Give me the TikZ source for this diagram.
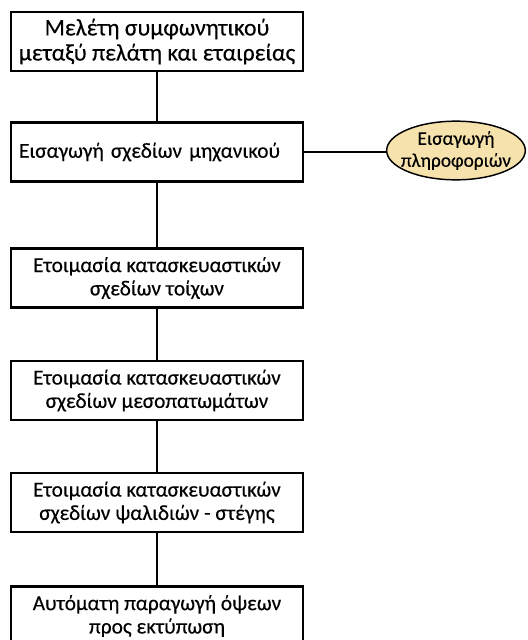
\documentclass[tikz,border=0pt]{standalone}
\usepackage{fontspec}
\setmainfont[FakeBold=0.3]{Carlito}
\usetikzlibrary{shapes.geometric}
\definecolor{tan}{RGB}{246,226,172}
\begin{document}
\begin{tikzpicture}[x=0.75pt,y=-0.75pt,
  stepbox/.style={draw,line width=1.9pt,minimum width=219pt,minimum height=44.5pt,inner sep=0pt,align=center,font=\fontsize{16}{17.5}\selectfont},
  info/.style={draw,ellipse,fill=tan,line width=1.1pt,minimum width=104pt,minimum height=44pt,inner sep=0pt,align=center,font=\fontsize{14.5}{16.5}\selectfont},
  link/.style={line width=2.2pt}]
\useasboundingbox (0,0) rectangle (528,640);
\begin{scope}
\clip (0,0) rectangle (528,640);
\node[stepbox,font=\fontsize{17.8}{18.8}\selectfont] (s1) at (157,41.5) {Μελέτη συμφωνητικού\\μεταξύ πελάτη και εταιρείας};
\node[stepbox,text width=207pt,align=left] (s2) at (157,152) {Εισαγωγή σχεδίων μηχανικού};
\node[stepbox] (s3) at (157,278) {Ετοιμασία κατασκευαστικών\\σχεδίων τοίχων};
\node[stepbox] (s4) at (157,390.5) {Ετοιμασία κατασκευαστικών\\σχεδίων μεσοπατωμάτων};
\node[stepbox] (s5) at (157,502.5) {Ετοιμασία κατασκευαστικών\\σχεδίων ψαλιδιών - στέγης};
\node[stepbox] (s6) at (157,616) {Αυτόματη παραγωγή όψεων\\προς εκτύπωση};
\node[info] (i1) at (456,150.5) {\makebox[0pt]{Εισαγωγή}\\\makebox[0pt]{πληροφοριών}};
\draw[link] (s1) -- (s2);
\draw[link] (s2) -- (s3);
\draw[link] (s3) -- (s4);
\draw[link] (s4) -- (s5);
\draw[link] (s5) -- (s6);
\draw[link] (s2.east) -- (s2.east -| i1.west);
\end{scope}
\end{tikzpicture}
\end{document}
